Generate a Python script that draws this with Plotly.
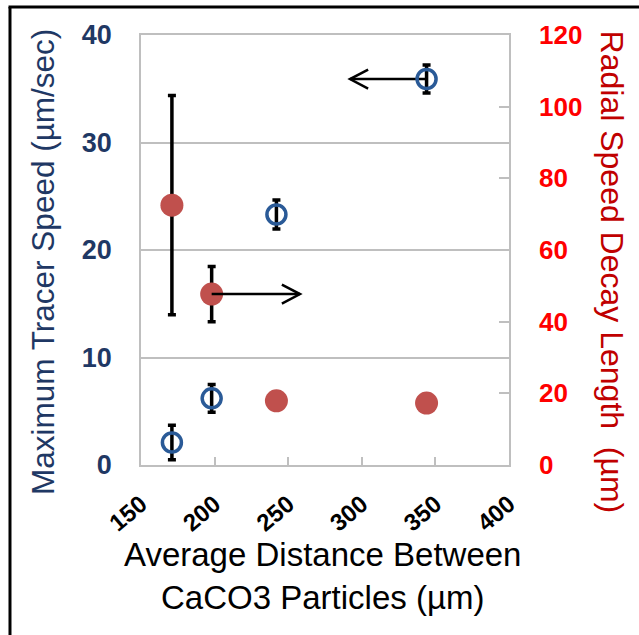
import plotly.graph_objects as go

# ---- data ----
distance = [171, 198, 242, 344]            # Average distance between CaCO3 particles (µm)
tracer_speed = [2.1, 6.2, 23.3, 35.9]      # Maximum tracer speed (µm/sec)
tracer_speed_err = [1.6, 1.3, 1.35, 1.3]
decay_length = [72.5, 47.7, 17.9, 17.3]    # Radial speed decay length (µm)
decay_length_err = [30.6, 7.7, 0, 0]

x_ticks = [150, 200, 250, 300, 350, 400]
y1_ticks = [0, 10, 20, 30, 40]
y2_ticks = [0, 20, 40, 60, 80, 100, 120]

# arrow tips (axis indicator arrows)
arrow_right_tip = 258    # arrow from decay-length point 2 pointing to the right axis
arrow_left_tip = 292     # arrow from tracer-speed point 4 pointing to the left axis

NAVY = "#1F3864"
BLUE = "#2A5A97"
RED_FILL = "#C0504D"
GRID = "#BFBFBF"
FONT = "Liberation Sans, Arial"

fig = go.Figure()

fig.add_trace(go.Scatter(
    x=distance, y=tracer_speed, mode="markers",
    marker=dict(symbol="circle-open", size=19, color=BLUE, line=dict(width=3.5, color=BLUE)),
    error_y=dict(type="data", array=tracer_speed_err, color="black", thickness=3.5, width=4),
    showlegend=False, yaxis="y", cliponaxis=False,
))
fig.add_trace(go.Scatter(
    x=distance, y=decay_length, mode="markers",
    marker=dict(symbol="circle", size=23, color=RED_FILL),
    error_y=dict(type="data", array=decay_length_err, color="black", thickness=3.5, width=4),
    showlegend=False, yaxis="y2", cliponaxis=False,
))

shapes = []
# right-pointing arrow (from decay-length point 2)
x0, y0 = distance[1], decay_length[1]
shapes.append(dict(type="line", xref="x", yref="y2", x0=x0, y0=y0, x1=arrow_right_tip, y1=y0,
                   line=dict(color="black", width=2.5)))
shapes.append(dict(type="path", xref="x", yref="y2",
                   path=f"M {arrow_right_tip-12.3},{y0+2.65} L {arrow_right_tip},{y0} L {arrow_right_tip-12.3},{y0-2.65}",
                   line=dict(color="black", width=2.5)))
# left-pointing arrow (from tracer-speed point 4)
x0, y0 = distance[3], tracer_speed[3]
shapes.append(dict(type="line", xref="x", yref="y", x0=x0, y0=y0, x1=arrow_left_tip, y1=y0,
                   line=dict(color="black", width=2.5), layer="below"))
shapes.append(dict(type="path", xref="x", yref="y",
                   path=f"M {arrow_left_tip+12.3},{y0+0.88} L {arrow_left_tip},{y0} L {arrow_left_tip+12.3},{y0-0.88}",
                   line=dict(color="black", width=2.5)))
# outer frame (left and top lines)
shapes.append(dict(type="line", xref="paper", yref="paper", x0=-0.356, y0=1.065, x1=-0.356, y1=-0.42,
                   line=dict(color="black", width=3)))
shapes.append(dict(type="line", xref="paper", yref="paper", x0=-0.36, y0=1.065, x1=1.4, y1=1.065,
                   line=dict(color="black", width=3)))

annotations = [
    dict(text="Maximum Tracer Speed (µm/sec)", xref="paper", yref="paper", x=-0.266, y=-0.074,
         xanchor="center", yanchor="bottom",
         textangle=-90, showarrow=False, font=dict(size=31.5, color=NAVY, family=FONT)),
    dict(text="Radial Speed Decay Length  (µm)", xref="paper", yref="paper", x=1.28, y=1.016,
         xanchor="center", yanchor="top",
         textangle=90, showarrow=False, font=dict(size=32, color="#C00000", family=FONT)),
    dict(text="Average Distance Between<br>CaCO3 Particles (µm)", xref="paper", yref="paper",
         x=0.492, y=-0.258, xanchor="center", yanchor="middle", showarrow=False,
         font=dict(size=33, color="black", family=FONT)),
]

fig.update_layout(
    width=639, height=635,
    margin=dict(l=141, r=130, t=35, b=170),
    paper_bgcolor="white", plot_bgcolor="white",
    font=dict(family=FONT),
    xaxis=dict(range=[150, 400], tickvals=x_ticks, tickangle=-40,
               tickfont=dict(size=24, color="black", family=FONT, weight="bold"),
               ticks="inside", ticklen=8, tickcolor=GRID, tickwidth=1.5,
               showline=True, linecolor=GRID, linewidth=1.5, mirror=True,
               showgrid=False, zeroline=False, ticklabelstandoff=14),
    yaxis=dict(range=[0, 40], tickvals=y1_ticks,
               tickfont=dict(size=27, color=NAVY, family=FONT, weight="bold"),
               ticks="", showgrid=True, gridcolor=GRID, gridwidth=1.5,
               showline=True, linecolor=GRID, linewidth=1.5, mirror=True,
               zeroline=False, ticklabelstandoff=22),
    yaxis2=dict(range=[0, 120], tickvals=y2_ticks, overlaying="y", side="right",
                tickfont=dict(size=26, color="#FF0000", family=FONT, weight="bold"),
                ticks="inside", ticklen=10, tickcolor=GRID, tickwidth=1.5,
                showgrid=False, zeroline=False, showline=False, ticklabelstandoff=29),
    shapes=shapes, annotations=annotations,
)

fig.write_html("out.html")
